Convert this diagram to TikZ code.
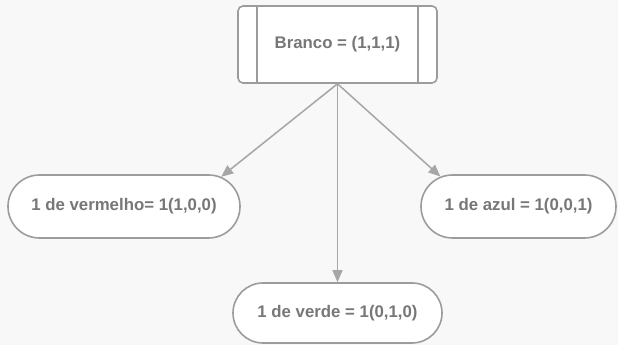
\documentclass[tikz,border=0pt]{standalone}
\usepackage{fontspec}
\setmainfont{Liberation Sans}
\usetikzlibrary{shapes.misc,arrows.meta,calc}
\definecolor{bgcol}{HTML}{F8F8F8}
\definecolor{edgecol}{HTML}{9C9C9C}
\definecolor{linkcol}{HTML}{A6A6A6}
\definecolor{txtcol}{HTML}{777777}
\tikzset{
  labeltext/.style={text=txtcol,font=\fontsize{16.8}{20}\bfseries\selectfont},
  procbox/.style={labeltext,draw=edgecol,fill=white,line width=1.6pt,
    rounded corners=5pt,minimum width=199pt,minimum height=77pt,inner sep=0pt},
  terminal/.style={labeltext,rounded rectangle,draw=edgecol,fill=white,
    line width=1.6pt,minimum height=63pt,inner sep=0pt},
  link/.style={draw=linkcol,line width=1.5pt,
    -{Triangle[length=12pt,width=10pt]}},
}
\begin{document}
\begin{tikzpicture}[x=1pt,y=1pt]
  % canvas
  \fill[bgcol] (0,0) rectangle (618,345);
  \useasboundingbox (0,0) rectangle (618,345);

  % predefined-process box with its two side bars
  \node[procbox] (top) at (337.5,300.5) {Branco = (1,1,1)};
  \draw[edgecol,line width=1.6pt]
    ($(top.north west)+(20,0)$) -- ($(top.south west)+(20,0)$)
    ($(top.north east)+(-20,0)$) -- ($(top.south east)+(-20,0)$);

  % terminals
  \node[terminal,minimum width=232pt] (red) at (124,138.5) {1 de vermelho= 1(1,0,0)};
  \node[terminal,minimum width=195pt] (blue) at (518.5,138.5) {1 de azul = 1(0,0,1)};
  \node[terminal,minimum width=209pt,minimum height=60pt] (green) at (337.5,32) {1 de verde = 1(0,1,0)};

  % connectors
  \draw[link] (top.south) -- (red.17);
  \draw[link] (top.south) -- (blue.159);
  \draw[link] (top.south) -- (green.north);
\end{tikzpicture}
\end{document}
